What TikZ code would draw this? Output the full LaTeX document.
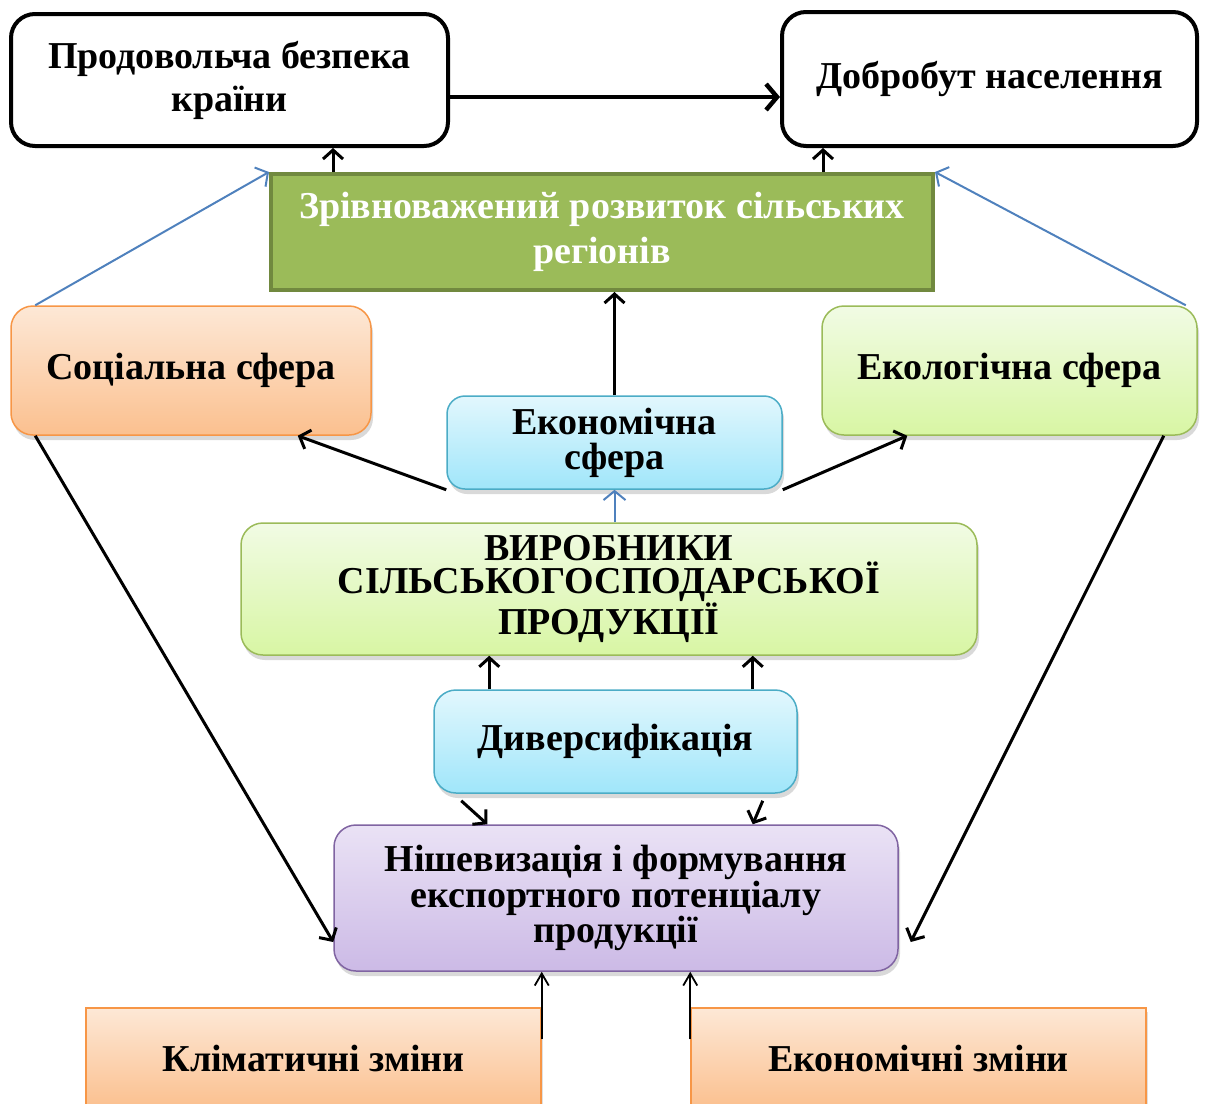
\documentclass[tikz,border=0pt]{standalone}
\usepackage{fontspec}
\setmainfont{Liberation Serif}
\usetikzlibrary{arrows.meta,shadows}
\definecolor{orangeT}{RGB}{253,232,214}
\definecolor{orangeB}{RGB}{251,192,143}
\definecolor{orangeD}{RGB}{247,150,70}
\definecolor{limeT}{RGB}{241,251,228}
\definecolor{limeB}{RGB}{216,246,164}
\definecolor{limeD}{RGB}{155,187,89}
\definecolor{skyT}{RGB}{226,247,253}
\definecolor{skyB}{RGB}{160,230,250}
\definecolor{skyD}{RGB}{75,172,198}
\definecolor{lilacT}{RGB}{234,226,245}
\definecolor{lilacB}{RGB}{204,186,230}
\definecolor{lilacD}{RGB}{128,100,162}
\definecolor{oliveF}{RGB}{155,187,89}
\definecolor{oliveD}{RGB}{113,137,63}
\definecolor{linkblue}{RGB}{79,129,189}
\tikzset{
  base/.style={align=center, inner sep=0pt, font=\fontsize{38}{43}\selectfont\bfseries},
  whitebox/.style={base, draw=black, line width=4pt, rounded corners=24pt, fill=white},
  softbox/.style={base, line width=1.5pt, rounded corners=22pt,
    drop shadow={shadow xshift=2pt, shadow yshift=-5pt, opacity=.3}},
  orangebox/.style={softbox, draw=orangeD, top color=orangeT, bottom color=orangeB},
  limebox/.style={softbox, draw=limeD, top color=limeT, bottom color=limeB},
  skybox/.style={softbox, draw=skyD, top color=skyT, bottom color=skyB},
  lilacbox/.style={softbox, draw=lilacD, top color=lilacT, bottom color=lilacB},
  flatbox/.style={base, line width=1.5pt, draw=orangeD, top color=orangeT, bottom color=orangeB,
    drop shadow={shadow xshift=2pt, shadow yshift=-4pt, opacity=.25}},
  bigarrow/.style={line width=4.5pt, -{Straight Barb[length=11pt,width=26pt]}},
  midarrow/.style={line width=3pt, -{Straight Barb[length=9pt,width=20pt]}},
  thinarrow/.style={line width=1.8pt, -{Straight Barb[length=12pt,width=14pt]}},
  bluearrow/.style={line width=2pt, draw=linkblue, -{Straight Barb[length=9pt,width=22pt]}}
}
\begin{document}
\begin{tikzpicture}[x=1pt, y=-1pt]
		\useasboundingbox (0,0) rectangle (1206,1103);
		\node[whitebox, minimum width=437pt, minimum height=132pt] (food) at (229.5,80) {Продовольча безпека\\країни};
		\node[whitebox, minimum width=415pt, minimum height=134pt] (welfare) at (989.5,79) {Добробут населення};
		\node[base, draw=oliveD, line width=4pt, fill=oliveF, text=white, font=\fontsize{38}{45}\selectfont\bfseries,
			minimum width=662pt, minimum height=116pt] (balance) at (602,232) {Зрівноважений розвиток сільських\\регіонів};
		\node[orangebox, minimum width=360pt, minimum height=129pt] (social) at (191,370.5) {Соціальна сфера};
		\node[limebox, minimum width=375pt, minimum height=129pt] (ecology) at (1009.5,370.5) {Екологічна сфера};
		\node[skybox, rounded corners=18pt, font=\fontsize{38}{35}\selectfont\bfseries,
			minimum width=335pt, minimum height=93pt] (economy) at (614.5,442.5) {Економічна\\сфера};
		\node[limebox, font=\fontsize{38}{33}\selectfont\bfseries,
			minimum width=736pt, minimum height=132pt] (producers) at (609,589) {ВИРОБНИКИ\\СІЛЬСЬКОГОСПОДАРСЬКОЇ\\ПРОДУКЦІЇ};
		\node[skybox, minimum width=363pt, minimum height=103pt] (divers) at (615.5,741.5) {Диверсифікація};
		\node[lilacbox, font=\fontsize{38}{33}\selectfont\bfseries,
			minimum width=564pt, minimum height=146pt] (niche) at (616,898) {Нішевизація і формування\\експортного потенціалу\\продукції};
		\node[flatbox, minimum width=455pt, minimum height=100pt] (climate) at (313.5,1058) {Кліматичні зміни};
		\node[flatbox, minimum width=455pt, minimum height=100pt] (market) at (918.5,1058) {Економічні зміни};
		\coordinate (f1) at ([yshift=-17pt]food.east);
		\coordinate (b1) at ([xshift=64pt]balance.north west);
		\coordinate (b2) at ([xshift=-112pt]balance.north east);
		\coordinate (d1) at ([xshift=56pt]divers.north west);
		\coordinate (d2) at ([xshift=-45pt]divers.north east);
		\coordinate (c1) at ([yshift=-32pt]climate.north east);
		\coordinate (m1) at ([yshift=-32pt]market.north west);
		\draw[bigarrow] (f1) -- (f1 -| welfare.west);
		\draw[midarrow] (b1) -- (b1 |- food.south);
		\draw[midarrow] (b2) -- (b2 |- welfare.south);
		\draw[bluearrow] ([xshift=25pt]social.north west) -- (balance.north west);
		\draw[bluearrow] ([xshift=-12pt]ecology.north east) -- (balance.north east);
		\draw[midarrow] (economy.north) -- (economy.north |- balance.south);
		\draw[midarrow] (economy.south west) -- ([xshift=-74pt]social.south east);
		\draw[midarrow] (economy.south east) -- ([xshift=86pt]ecology.south west);
		\draw[bluearrow] (economy.south |- producers.north) -- (economy.south);
		\draw[midarrow] (d1) -- (d1 |- producers.south);
		\draw[midarrow] (d2) -- (d2 |- producers.south);
		\draw[midarrow] ([xshift=28pt,yshift=-7pt]divers.south west) -- ([xshift=154pt]niche.north west);
		\draw[midarrow] ([xshift=-35pt,yshift=-7pt]divers.south east) -- ([xshift=-146pt]niche.north east);
		\draw[midarrow] ([xshift=25pt]social.south west) -- ([yshift=-44pt]niche.west);
		\draw[midarrow] ([xshift=-34pt]ecology.south east) -- ([xshift=12pt,yshift=-44pt]niche.east);
		\draw[thinarrow] (c1) -- (c1 |- niche.south);
		\draw[thinarrow] (m1) -- (m1 |- niche.south);
\end{tikzpicture}
\end{document}
